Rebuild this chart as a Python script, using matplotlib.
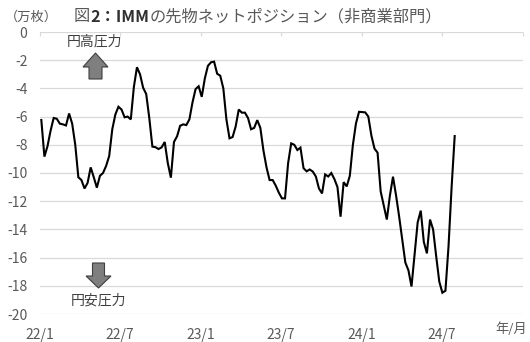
import matplotlib
matplotlib.use("Agg")
import matplotlib.pyplot as plt
from matplotlib.patches import Polygon
import pandas as pd
import numpy as np

plt.rcParams['font.family'] = ['Noto Sans CJK JP', 'DejaVu Sans']

# weekly net position of non-commercial traders (10k contracts)
start_date = "2022-01-04"
net_position = [
    -6.24, -8.84, -8.1, -7.0, -6.1, -6.15, -6.5, -6.55, -6.63, -5.78,
    -6.5, -8.0, -10.3, -10.5, -11.1, -10.7, -9.6, -10.3, -11.04, -10.2,
    -10.0, -9.5, -8.8, -6.9, -5.85, -5.3, -5.5, -6.05, -6.0, -6.2,
    -3.9, -2.5, -3.0, -3.95, -4.4, -6.1, -8.13, -8.17, -8.3, -8.18,
    -7.8, -9.3, -10.33, -7.8, -7.4, -6.65, -6.55, -6.6, -6.2, -5.0,
    -4.05, -3.85, -4.6, -3.3, -2.4, -2.15, -2.1, -2.96, -3.1, -4.0,
    -6.2, -7.54, -7.45, -6.7, -5.5, -5.72, -5.72, -6.1, -6.9, -6.8,
    -6.25, -6.8, -8.4, -9.6, -10.5, -10.5, -10.9, -11.4, -11.8, -11.8,
    -9.3, -7.9, -8.0, -8.37, -8.2, -9.66, -9.88, -9.75, -9.9, -10.25,
    -11.1, -11.45, -10.1, -10.25, -10.0, -10.43, -11.0, -13.1, -10.65, -10.95,
    -10.2, -8.0, -6.48, -5.66, -5.68, -5.7, -6.0, -7.35, -8.27, -8.56,
    -11.3, -12.3, -13.3, -11.6, -10.26, -11.6, -13.1, -14.7, -16.35, -16.9,
    -18.05, -15.8, -13.5, -12.67, -14.9, -15.7, -13.3, -14.0, -15.9, -17.7,
    -18.49, -18.35, -15.2, -11.0, -7.38,
]
tick_dates = ["2022-01-01", "2022-07-01", "2023-01-01", "2023-07-01",
              "2024-01-01", "2024-07-01", "2025-01-01"]
tick_labels = ["22/1", "22/7", "23/1", "23/7", "24/1", "24/7", ""]
y_ticks = list(range(-20, 1, 2))

dates = pd.date_range(start_date, periods=len(net_position), freq="7D")

W, H = 530, 342
fig = plt.figure(figsize=(W / 100, H / 100), dpi=100)
ax = fig.add_axes([40 / W, 1 - 314 / H, 483 / W, 282 / H])

ax.plot(dates, net_position, color="black", lw=1.5, solid_joinstyle="miter")

ax.set_ylim(-20, 0)
ax.set_xlim(pd.Timestamp(tick_dates[0]), pd.Timestamp(tick_dates[-1]))
ax.set_yticks(y_ticks)
ax.set_yticklabels([str(v) for v in y_ticks])
ax.yaxis.grid(True, color="#d9d9d9", lw=0.9)
ax.set_axisbelow(True)
for s in ax.spines.values():
    s.set_visible(False)
ax.tick_params(axis="y", length=0, pad=9, labelsize=10, labelcolor="#595959")

ax.set_xticks([pd.Timestamp(d) for d in tick_dates])
ax.set_xticklabels(tick_labels)
ax.tick_params(axis="x", top=True, bottom=False, labeltop=False, labelbottom=True,
               direction="in", length=3, width=0.8, color="#d9d9d9",
               labelsize=10, labelcolor="#595959", pad=10)

def px(x, y):
    return (x / W, 1 - y / H)

# title pieces
fig.canvas.draw()
renderer = fig.canvas.get_renderer()
pieces = [("図", "normal", "#595959"), ("2：IMM", "bold", "#303030"),
          ("の先物ネットポジション（非商業部門）", "normal", "#595959")]
xcur = 74
for txt, wt, col in pieces:
    t = fig.text(*px(xcur, 17), txt, fontsize=11.7, fontweight=wt, color=col,
                 ha="left", va="center")
    bb = t.get_window_extent(renderer)
    xcur += bb.width

fig.text(*px(5, 17), "（万枚）", fontsize=9.5, color="#595959", ha="left", va="center")
fig.text(*px(511, 329), "年/月", fontsize=9.5, color="#595959", ha="center", va="center")
fig.text(*px(95, 42), "円高圧力", fontsize=10, color="#404040", ha="center", va="center")
fig.text(*px(99, 301), "円安圧力", fontsize=10, color="#404040", ha="center", va="center")

def arrow(pts):
    poly = Polygon([px(x, y) for x, y in pts], closed=True, transform=fig.transFigure,
                   facecolor="#7f7f7f", edgecolor="#404040", lw=0.8)
    fig.patches.append(poly)

arrow([(95.5, 53), (108, 67), (102, 67), (102, 79), (89, 79), (89, 67), (83, 67)])
arrow([(92.5, 263), (104.5, 263), (104.5, 276), (111, 276), (98.5, 288), (86, 276), (92.5, 276)])

fig.savefig("out.png", dpi=100)
